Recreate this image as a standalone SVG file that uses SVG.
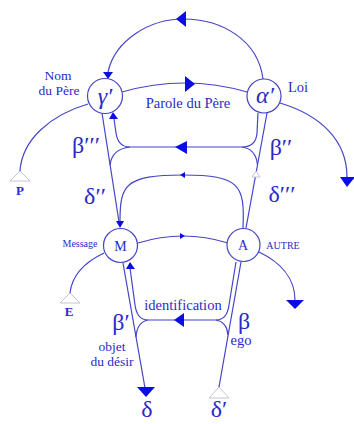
<svg xmlns="http://www.w3.org/2000/svg" width="354" height="424" viewBox="0 0 354 424">
<style>
.ln{fill:none;stroke:#4444c8;stroke-width:1.2}
.nd{fill:#ffffff;stroke:#4444c8;stroke-width:1.2}
.ah{fill:#0c0ce6;stroke:none}
.op{fill:#ffffff;stroke:#c4c4d4;stroke-width:1}
.t{font-family:"Liberation Serif","Times New Roman",serif;fill:#2a2ac8;text-anchor:middle}
.g{font-size:24px}
.lb{font-size:14.5px}
.l2{font-size:13.5px}
.sm{font-size:10px}
.b{font-size:13px;font-weight:bold}
</style>
<rect width="354" height="424" fill="#ffffff"/>
<g id="connectors">
  <path class="ln" d="M263 79 C258 40 222 19 183 19 C150 19 115 40 108 72"/>
  <polygon class="ah" points="176,19 186,11 186,27"/>
  <polygon class="ah" points="103,72 113,72 108,79"/>
  <path class="ln" d="M122 92 Q185 74 247 92"/>
  <polygon class="ah" points="185,76 185,92 195,84"/>
  <path class="ln" d="M88 104 C50 115 22 140 20 171"/>
  <polygon class="op" points="20,171 10,181 30,181"/>
  <path class="ln" d="M280 103 C320 115 347 140 347 177"/>
  <polygon class="ah" points="340,177 355,177 347,187"/>
  <path class="ln" d="M102 113 L119 222"/>
  <polygon class="ah" points="116,221 124,221 120,228"/>
  <path class="ln" d="M114 119 L116 133 Q118 147 130 147 L242 147 Q256 147 257 133 L258 113"/>
  <path class="ln" d="M130 147 Q112 149 110 165"/>
  <path class="ln" d="M242 147 Q256 149 257.5 165"/>
  <polygon class="ah" points="113,112 109,119 118,119"/>
  <polygon class="ah" points="175,147 187,141 187,154"/>
  <path class="ln" d="M267 113 L246 228"/>
  <polygon class="op" points="256,171 252,177 260,177"/>
  <path class="ln" d="M243 228 C245 185 240 175 183 175 C125 175 120 185 120 221"/>
  <polygon class="ah" points="180,175 185,172 185,178"/>
  <path class="ln" d="M138 243 Q183 229 228 243"/>
  <polygon class="ah" points="185,236 180,233 180,239"/>
  <path class="ln" d="M104 253 C85 262 72 275 70 293"/>
  <polygon class="op" points="70,293 60,303 80,303"/>
  <path class="ln" d="M259 252 C280 262 295 278 295 300"/>
  <polygon class="ah" points="286,300 304,300 295,309"/>
  <path class="ln" d="M123 263 L145 388"/>
  <polygon class="ah" points="137,387 155,387 146,397"/>
  <path class="ln" d="M130 268 L135 305 Q137 320 148 320 L216 320 Q227 320 229 305 L236 262"/>
  <path class="ln" d="M148 320 Q137 322 136 337"/>
  <path class="ln" d="M216 320 Q227 322 228 335"/>
  <polygon class="ah" points="130,262 126,269 135,269"/>
  <polygon class="ah" points="174,320 184,313 184,327"/>
  <path class="ln" d="M241 262 L219 387"/>
  <polygon class="op" points="219,387 209,398 229,398"/>
</g>
<g id="node-gamma">
  <circle class="nd" cx="105" cy="96" r="17.5"/>
  <text class="t" x="105" y="104" font-size="24" font-style="italic">γ′</text>
</g>
<g id="node-alpha">
  <circle class="nd" cx="264" cy="96" r="17"/>
  <text class="t" x="265" y="103" font-size="24" font-style="italic">α′</text>
</g>
<g id="node-M">
  <circle class="nd" cx="120.5" cy="245.5" r="17"/>
  <text class="t" x="120.5" y="251" font-size="14">M</text>
</g>
<g id="node-A">
  <circle class="nd" cx="243.5" cy="245" r="16.5"/>
  <text class="t" x="243" y="250" font-size="14">A</text>
</g>
<g id="labels">
  <text class="t l2" x="58" y="80">Nom</text>
  <text class="t l2" x="59" y="95">du Père</text>
  <text class="t lb" x="298" y="92">Loi</text>
  <text class="t lb" x="188" y="108">Parole du Père</text>
  <text class="t g" x="86" y="153">β′′′</text>
  <text class="t g" x="281" y="155">β′′</text>
  <text class="t g" x="95" y="204">δ′′</text>
  <text class="t g" x="282" y="202">δ′′′</text>
  <text class="t sm" x="80" y="247">Message</text>
  <text class="t sm" x="283" y="249">AUTRE</text>
  <text class="t b" x="20" y="195">P</text>
  <text class="t b" x="69" y="316">E</text>
  <text class="t lb" x="183" y="310">identification</text>
  <text class="t g" x="121" y="330">β′</text>
  <text class="t l2" x="112" y="351">objet</text>
  <text class="t l2" x="112" y="366">du désir</text>
  <text class="t g" x="244" y="329">β</text>
  <text class="t lb" x="241" y="345">ego</text>
  <text class="t g" x="147" y="417">δ</text>
  <text class="t g" x="219" y="417">δ′</text>
</g>
</svg>
